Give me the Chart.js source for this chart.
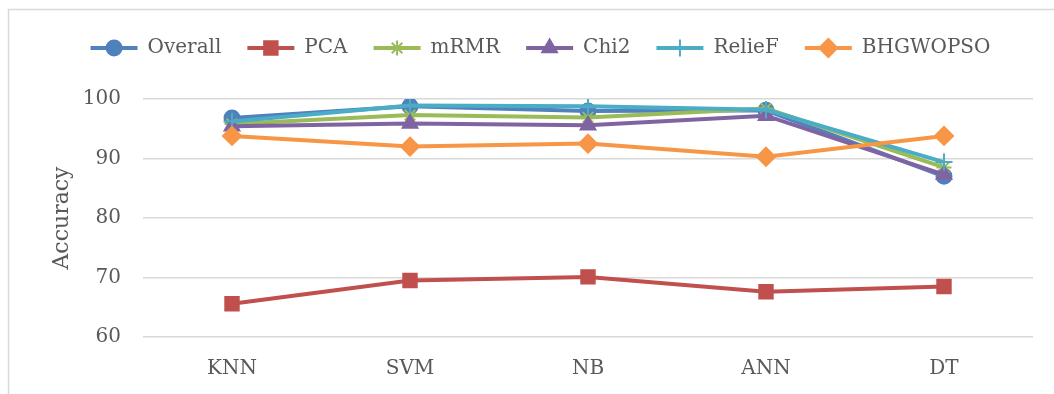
<!DOCTYPE html>
<html>
<head>
<meta charset="utf-8">
<script src="https://cdn.jsdelivr.net/npm/chart.js@4"></script>
<style>
  body { margin: 0; background: #fff; }
  #wrap { width: 1054px; height: 394px; }
</style>
</head>
<body>
<div id="wrap"><canvas id="chart" width="1054" height="394"></canvas></div>
<script>
const classifiers = ['KNN', 'SVM', 'NB', 'ANN', 'DT'];
const yTicks = [60, 70, 80, 90, 100];

const overall  = [96.8, 98.8, 98.0, 98.1, 87.0];
const pca      = [65.6, 69.5, 70.1, 67.6, 68.5];
const mrmr     = [95.8, 97.3, 96.9, 98.4, 88.5];
const chi2     = [95.4, 95.9, 95.6, 97.2, 87.3];
const relief   = [96.2, 98.9, 98.8, 98.2, 89.4];
const bhgwopso = [93.8, 92.0, 92.5, 90.3, 93.8];

const seriesNames  = ['Overall', 'PCA', 'mRMR', 'Chi2', 'RelieF', 'BHGWOPSO'];
const seriesValues = [overall, pca, mrmr, chi2, relief, bhgwopso];
const seriesColors = ['#4F81BD', '#C0504D', '#9BBB59', '#8064A2', '#4BACC6', '#F79646'];
const seriesMarks  = ['circle', 'rect', 'star', 'triangle', 'cross', 'rectRot'];
const markRadius   = [7.5, 9.5, 7.5, 8.5, 8.5, 9];

const textColor = '#595959';
const fontFamily = '"DejaVu Serif", serif';

const datasets = seriesNames.map((name, i) => ({
    label: name,
    data: seriesValues[i],
    borderColor: seriesColors[i],
    backgroundColor: seriesColors[i],
    pointBackgroundColor: seriesColors[i],
    pointBorderColor: seriesColors[i],
    pointStyle: seriesMarks[i],
    pointRadius: markRadius[i],
    pointBorderWidth: 2,
    borderWidth: 4,
    tension: 0,
    order: seriesNames.length - i
}));

// frame lines + legend line/marker samples
const decoPlugin = {
    id: 'deco',
    beforeUpdate(chart) {
        const lg = chart.legend;
        if (lg && !lg._patched) {
            const fit = lg.fit;
            lg.fit = function () { fit.call(this); this.height = 87; };
            lg._patched = true;
        }
    },
    beforeDraw(chart) {
        const ctx = chart.ctx;
        ctx.save();
        ctx.strokeStyle = '#d9d9d9';
        ctx.lineWidth = 1.5;
        ctx.beginPath();
        ctx.moveTo(8.5, 394);
        ctx.lineTo(8.5, 9.5);
        ctx.lineTo(1054, 9.5);
        ctx.stroke();
        ctx.restore();
    },
    afterDraw(chart) {
        const lg = chart.legend;
        if (!lg || !lg.legendHitBoxes) return;
        const ctx = chart.ctx;
        const boxW = lg.options.labels.boxWidth;
        lg.legendItems.forEach((item, k) => {
            const hb = lg.legendHitBoxes[k];
            const i = item.datasetIndex;
            const y = hb.top + hb.height / 2;
            ctx.save();
            ctx.strokeStyle = seriesColors[i];
            ctx.fillStyle = seriesColors[i];
            ctx.lineWidth = 4;
            ctx.beginPath();
            ctx.moveTo(hb.left, y);
            ctx.lineTo(hb.left + boxW, y);
            ctx.stroke();
            ctx.lineWidth = 2;
            Chart.helpers.drawPoint(ctx, {
                pointStyle: seriesMarks[i],
                radius: markRadius[i],
                rotation: 0,
                borderWidth: 2
            }, hb.left + boxW / 2, y);
            ctx.restore();
        });
    }
};

new Chart(document.getElementById('chart').getContext('2d'), {
    type: 'line',
    data: { labels: classifiers, datasets: datasets },
    plugins: [decoPlugin],
    options: {
        responsive: false,
        animation: false,
        layout: { padding: { left: 48, right: 21, top: 12, bottom: 0 } },
        plugins: {
            tooltip: { enabled: false },
            legend: {
                position: 'top',
                labels: {
                    boxWidth: 47,
                    padding: 26,
                    color: textColor,
                    font: { family: fontFamily, size: 20 },
                    sort: (a, b) => a.datasetIndex - b.datasetIndex,
                    generateLabels(chart) {
                        const items = Chart.defaults.plugins.legend.labels.generateLabels(chart);
                        items.forEach(it => {
                            it.fillStyle = 'rgba(0,0,0,0)';
                            it.strokeStyle = 'rgba(0,0,0,0)';
                            it.lineWidth = 0;
                        });
                        return items;
                    }
                }
            }
        },
        scales: {
            x: {
                offset: true,
                grid: { display: false },
                border: { display: false },
                ticks: { color: textColor, padding: 12, font: { family: fontFamily, size: 20 } },
                afterFit(s) { s.height = 57; }
            },
            y: {
                min: 60,
                max: 100,
                afterBuildTicks(s) { s.ticks = yTicks.map(v => ({ value: v })); },
                grid: { color: '#d9d9d9', lineWidth: 1.5, drawTicks: false },
                border: { display: false },
                ticks: { color: textColor, padding: 22, font: { family: fontFamily, size: 20 } },
                title: {
                    display: true,
                    text: 'Accuracy',
                    color: textColor,
                    font: { family: fontFamily, size: 22 },
                    padding: { top: 1, bottom: 0 }
                },
                afterFit(s) { s.width = 95; }
            }
        }
    }
});
</script>
</body>
</html>
